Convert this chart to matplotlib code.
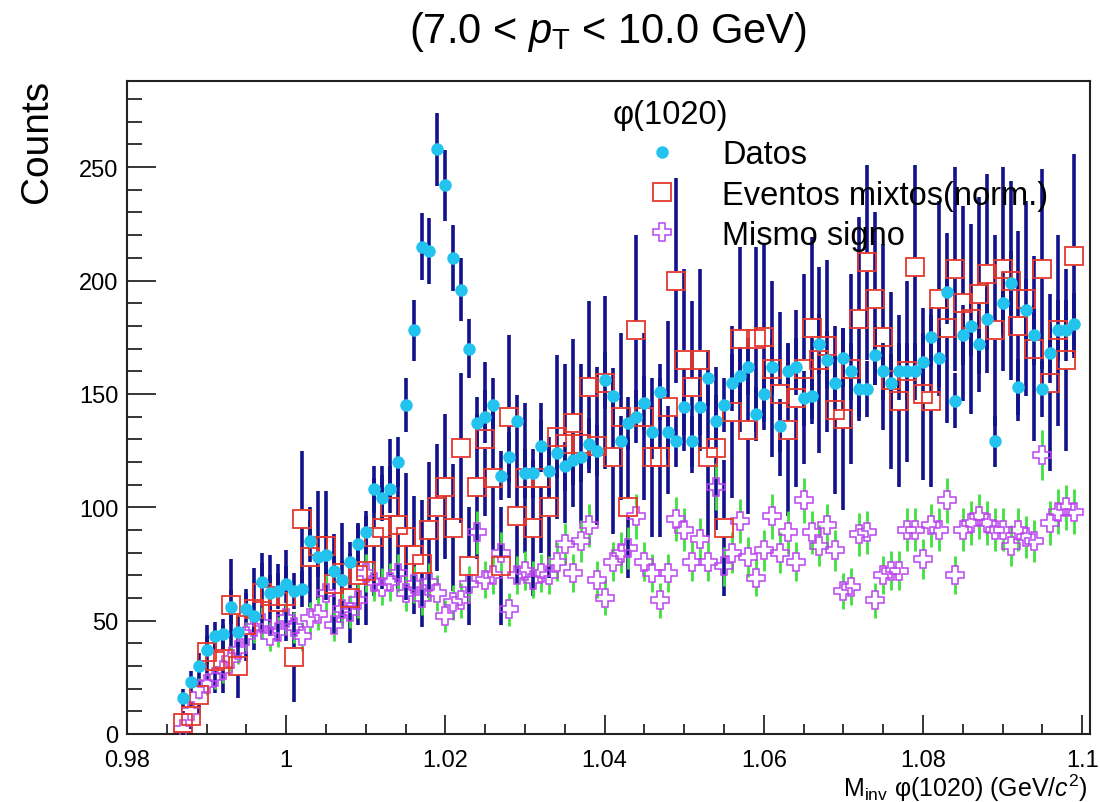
import matplotlib
matplotlib.use("Agg")
import matplotlib.pyplot as plt
import numpy as np
from matplotlib.ticker import MultipleLocator, FuncFormatter

plt.rcParams["font.family"] = ["Liberation Sans", "DejaVu Sans"]
plt.rcParams["mathtext.fontset"] = "custom"
plt.rcParams["mathtext.rm"] = "Liberation Sans"
plt.rcParams["mathtext.it"] = "Liberation Sans:italic"
plt.rcParams["mathtext.bf"] = "Liberation Sans:bold"

# ---- data: counts per 1 MeV bin, first bin centred at 0.987 GeV/c^2 ----
first_bin = 0.987
bin_width = 0.001

datos = [
    16, 23, 30, 37, 43, 44, 56, 45, 55, 52,
    67, 62, 63, 66, 63, 64, 85, 78, 79, 72,
    68, 76, 84, 89, 108, 104, 108, 120, 145, 178,
    215, 213, 258, 242, 210, 196, 170, 137, 140, 145,
    114, 122, 138, 115, 115, 127, 116, 124, 118, 121,
    122, 128, 125, 156, 149, 129, 137, 140, 146, 133,
    151, 133, 129, 144, 129, 144, 157, 138, 145, 155,
    158, 162, 141, 150, 162, 136, 160, 162, 148, 149,
    172, 165, 155, 166, 160, 152, 152, 167, 160, 155,
    160, 160, 160, 164, 175, 166, 195, 147, 176, 180,
    172, 183, 129, 190, 199, 153, 187, 176, 152, 168,
    178, 178, 181]
err_datos = [
    4.0, 4.8, 5.5, 6.1, 6.6, 6.6, 7.5, 6.7, 7.4, 7.2,
    8.2, 7.9, 7.9, 8.1, 7.9, 8.0, 9.2, 8.8, 8.9, 8.5,
    8.2, 8.7, 9.2, 9.4, 10.4, 10.2, 10.4, 11.0, 12.0, 13.3,
    14.7, 14.6, 16.1, 15.6, 14.5, 14.0, 13.0, 11.7, 11.8, 12.0,
    10.7, 11.0, 11.7, 10.7, 10.7, 11.3, 10.8, 11.1, 10.9, 11.0,
    11.0, 11.3, 11.2, 12.5, 12.2, 11.4, 11.7, 11.8, 12.1, 11.5,
    12.3, 11.5, 11.4, 12.0, 11.4, 12.0, 12.5, 11.7, 12.0, 12.4,
    12.6, 12.7, 11.9, 12.2, 12.7, 11.7, 12.6, 12.7, 12.2, 12.2,
    13.1, 12.8, 12.4, 12.9, 12.6, 12.3, 12.3, 12.9, 12.6, 12.4,
    12.6, 12.6, 12.6, 12.8, 13.2, 12.9, 14.0, 12.1, 13.3, 13.4,
    13.1, 13.5, 11.4, 13.8, 14.1, 12.4, 13.7, 13.3, 12.3, 13.0,
    13.3, 13.3, 13.5]

mixtos = [
    5, 8, 17, 36, 32, 33, 57, 30, 48, 55,
    62, 61, 58, 61, 34, 95, 78, 83, 83, 66,
    71, 60, 70, 72, 87, 91, 100, 92, 87, 79,
    75, 90, 100, 109, 91, 126, 74, 109, 130, 113,
    74, 140, 96, 113, 91, 113, 100, 131, 128, 137,
    128, 153, 127, 155, 122, 140, 100, 178, 140, 122,
    122, 144, 200, 165, 153, 165, 122, 126, 91, 142,
    174, 134, 174, 175, 161, 150, 134, 148, 161, 179,
    165, 171, 143, 139, 161, 183, 208, 192, 175, 156,
    147, 160, 206, 150, 147, 192, 179, 205, 190, 183,
    194, 203, 178, 205, 200, 180, 192, 170, 205, 155,
    178, 165, 211]
err_mixtos = [
    5, 6, 8, 12, 14, 15, 20, 14, 16, 18,
    18, 18, 17, 20, 20, 30, 22, 24, 24, 22,
    22, 20, 22, 24, 26, 27, 30, 28, 28, 26,
    28, 30, 28, 32, 28, 33, 26, 32, 34, 32,
    26, 36, 30, 33, 30, 33, 31, 36, 35, 37,
    35, 38, 35, 38, 34, 37, 31, 42, 37, 35,
    35, 38, 45, 40, 38, 40, 35, 36, 30, 38,
    41, 37, 41, 41, 39, 36, 38, 39, 42, 40,
    41, 38, 37, 40, 42, 45, 43, 38, 41, 39,
    38, 40, 45, 38, 38, 43, 42, 45, 43, 42,
    43, 44, 42, 45, 44, 42, 43, 41, 44, 39,
    42, 40, 45]

mismo_signo = [
    2, 10, 20, 22, 25, 28, 33, 37, 43, 47,
    49, 43, 45, 51, 47, 43, 51, 53, 62, 48,
    55, 54, 59, 71, 67, 65, 67, 71, 62, 66,
    60, 67, 62, 52, 58, 59, 66, 89, 68, 70,
    80, 55, 70, 72, 68, 71, 70, 76, 84, 71,
    85, 92, 68, 60, 76, 80, 82, 96, 76, 71,
    59, 71, 95, 90, 76, 86, 76, 109, 74, 80,
    94, 78, 69, 81, 96, 80, 89, 76, 103, 89,
    83, 92, 81, 63, 65, 88, 89, 59, 70, 72,
    72, 90, 90, 77, 92, 90, 103, 70, 90, 93,
    96, 93, 90, 90, 83, 90, 87, 85, 123, 93,
    98, 100, 98]
err_mismo = [
    1.4, 3.0, 4.5, 4.7, 5.0, 5.3, 5.7, 6.1, 6.6, 6.9,
    7.0, 6.6, 6.7, 7.1, 6.9, 6.6, 7.1, 7.3, 7.9, 6.9,
    7.4, 7.3, 7.7, 8.4, 8.2, 8.1, 8.2, 8.4, 7.9, 8.1,
    7.7, 8.2, 7.9, 7.2, 7.6, 7.7, 8.1, 9.4, 8.2, 8.4,
    8.9, 7.4, 8.4, 8.5, 8.2, 8.4, 8.4, 8.7, 9.2, 8.4,
    9.2, 9.6, 8.2, 7.7, 8.7, 8.9, 9.1, 9.8, 8.7, 8.4,
    7.7, 8.4, 9.7, 9.5, 8.7, 9.3, 8.7, 10.4, 8.6, 8.9,
    9.7, 8.8, 8.3, 9.0, 9.8, 8.9, 9.4, 8.7, 10.1, 9.4,
    9.1, 9.6, 9.0, 7.9, 8.1, 9.4, 9.4, 7.7, 8.4, 8.5,
    8.5, 9.5, 9.5, 8.8, 9.6, 9.5, 10.1, 8.4, 9.5, 9.6,
    9.8, 9.6, 9.5, 9.5, 9.1, 9.5, 9.3, 9.2, 11.1, 9.6,
    9.9, 10.0, 9.9]

labels = ["Datos", "Eventos mixtos(norm.)", "Mismo signo"]
header = "φ(1020)"

m_inv = first_bin + bin_width * np.arange(len(datos))

NAVY = "#12128c"
CYAN = "#22c3ee"
RED = "#e5382e"
VIOLET = "#bb44ee"
GREEN = "#3ee03e"

YMAX = 288

fig = plt.figure(figsize=(11, 8.03), dpi=100)
ax = fig.add_axes([0.1155, 0.0847, 0.8755, 0.8132])
ax.set_xlim(0.98, 1.101)
ax.set_ylim(0, YMAX)

# marker half-height in data units (bars stop at the marker edge, like ROOT)
ax_h_px = fig.get_figheight() * fig.dpi * ax.get_position().height
cnt_per_px = YMAX / ax_h_px


def gapped_bars(x, y, err, gap, color, lw):
    y = np.asarray(y, float)
    err = np.asarray(err, float)
    reach = np.maximum(err, gap)
    ax.vlines(x, y + gap, y + reach, color=color, lw=lw, zorder=2)
    ax.vlines(x, y - reach, y - gap, color=color, lw=lw, zorder=2)


gapped_bars(m_inv, mixtos, err_mixtos, 9.5 * cnt_per_px, NAVY, 2.6)
ax.vlines(m_inv, np.array(datos) - err_datos, np.array(datos) + err_datos,
          color=NAVY, lw=2.6, zorder=2)
gapped_bars(m_inv, mismo_signo, err_mismo, 9.0 * cnt_per_px, GREEN, 2.0)

h_ls, = ax.plot(m_inv, mismo_signo, ls="none", marker="P", ms=13,
                mfc="none", mec=VIOLET, mew=1.1, zorder=3)
h_mix, = ax.plot(m_inv, mixtos, ls="none", marker="s", ms=13.5,
                 mfc="none", mec=RED, mew=1.3, zorder=3)
h_dat, = ax.plot(m_inv, datos, ls="none", marker="o", ms=9,
                 mfc=CYAN, mec=CYAN, mew=0, zorder=4)

# ROOT-like frame and ticks
for s in ax.spines.values():
    s.set_linewidth(1.5)
    s.set_color("#222222")
ax.xaxis.set_major_locator(MultipleLocator(0.02))
ax.xaxis.set_minor_locator(MultipleLocator(0.005))
ax.yaxis.set_major_locator(MultipleLocator(50))
ax.yaxis.set_minor_locator(MultipleLocator(10))
ax.xaxis.set_major_formatter(FuncFormatter(lambda v, p: "%g" % round(v, 3)))
ax.tick_params(axis="x", which="major", direction="in", length=14, width=1.1,
               labelsize=17, pad=10.5)
ax.tick_params(axis="x", which="minor", direction="in", length=7, width=1.1)
ax.tick_params(axis="y", which="major", direction="in", length=21, width=1.1,
               labelsize=17, pad=6)
ax.tick_params(axis="y", which="minor", direction="in", length=10.5, width=1.1)

fig.text(0.553, 0.9465, r"(7.0 < $p_{\mathrm{T}}$ < 10.0 GeV)", fontsize=30,
         ha="center", va="baseline")
fig.text(0.034, 0.900, "Counts", fontsize=28, rotation=90,
         ha="center", va="top")
fig.text(0.989, 0.008, r"$\mathrm{M_{inv}}$ φ(1020) (GeV/$c^{2}$)",
         fontsize=18, ha="right", va="baseline")

ax.legend([h_dat, h_mix, h_ls], labels, title=header, loc="upper left",
          bbox_to_anchor=(0.5047, 0.972), frameon=False, fontsize=23.5,
          title_fontsize=23.5, alignment="left", handlelength=3.0,
          handletextpad=0.34, labelspacing=0.28, borderpad=0,
          borderaxespad=0, numpoints=1)

fig.savefig("out.png", dpi=100)
